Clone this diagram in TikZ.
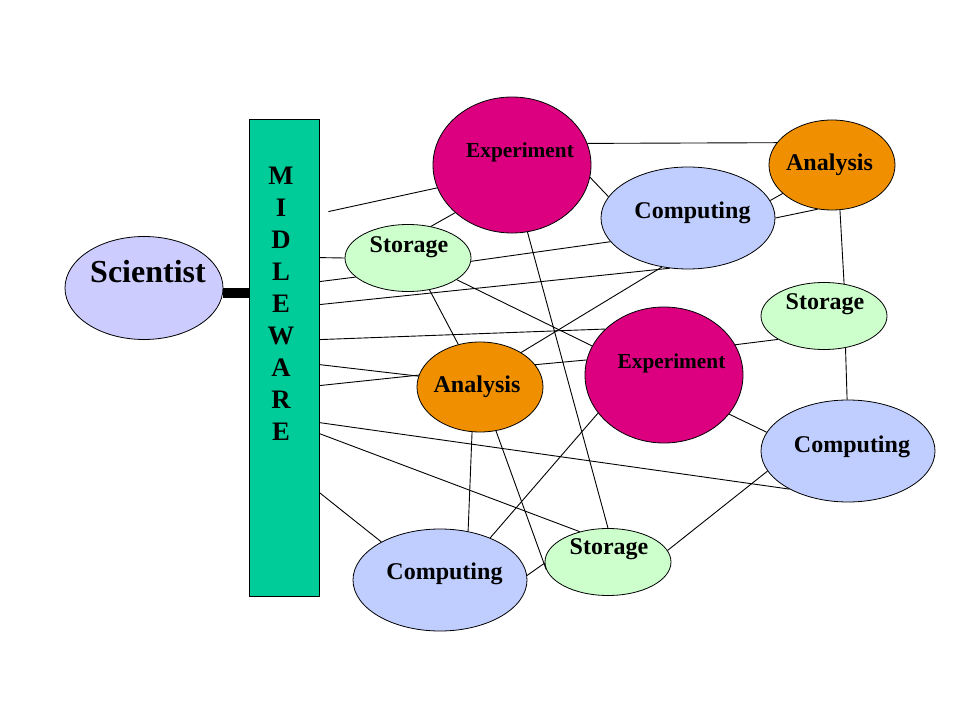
\documentclass[tikz,border=0pt]{standalone}
\usepackage{fontspec}
\setmainfont{Liberation Serif}
\usetikzlibrary{shapes.geometric}
\definecolor{sciblue}{RGB}{204,204,255}
\definecolor{compblue}{RGB}{192,206,255}
\definecolor{expmag}{RGB}{220,0,128}
\definecolor{anaorange}{RGB}{240,144,0}
\definecolor{stogreen}{RGB}{204,255,204}
\definecolor{mwgreen}{RGB}{0,204,153}
\tikzstyle{blob} = [ellipse, draw=black, line width=0.8pt, inner sep=0pt]
\tikzstyle{scientist} = [blob, fill=sciblue, minimum width=158pt, minimum height=103pt]
\tikzstyle{experiment} = [blob, fill=expmag, minimum width=158pt, minimum height=136pt]
\tikzstyle{computing} = [blob, fill=compblue, minimum width=174pt, minimum height=102pt]
\tikzstyle{analysis} = [blob, fill=anaorange, minimum width=126pt, minimum height=90pt]
\tikzstyle{storage} = [blob, fill=stogreen, minimum width=126pt, minimum height=67pt]
\tikzstyle{middleware} = [rectangle, draw=black, line width=0.8pt, fill=mwgreen, minimum width=70pt, minimum height=477pt]
\tikzstyle{txt} = [font=\bfseries\fontsize{24}{28}\selectfont]
\tikzstyle{smalltxt} = [font=\bfseries\fontsize{21.3}{25}\selectfont]
\tikzstyle{bigtxt} = [font=\bfseries\fontsize{32}{38}\selectfont]
\tikzstyle{link} = [line width=0.9pt]
\tikzstyle{bar} = [line width=10pt]

\begin{document}
\begin{tikzpicture}[x=1pt, y=-1pt]
\useasboundingbox (0,0) rectangle (959,719);
\node (mw) [middleware] at (284,357.5) {};
\node (mwtext) [font=\bfseries\fontsize{26.7}{32}\selectfont, align=center] at (281,303.5) {M\\I\\D\\L\\E\\W\\A\\R\\E};
\node (sci) [scientist, label={[name=scit, bigtxt, xshift=4pt, yshift=16pt]center:Scientist}] at (144,288) {};
\node (expT) [experiment, label={[name=expTt, smalltxt, xshift=8pt, yshift=13pt]center:Experiment}] at (512,165) {};
\node (compT) [computing, label={[name=compTt, txt, xshift=4.5pt, yshift=5.5pt]center:Computing}] at (688,218) {};
\node (anaT) [analysis, label={[name=anaTt, txt, xshift=-2.5pt]center:Analysis}] at (832,165) {};
\node (stoL) [storage, label={[name=stoLt, txt, xshift=1pt, yshift=10.5pt]center:Storage}] at (408,258) {};
\node (stoR) [storage, label={[name=stoRt, txt, xshift=1pt, yshift=11.5pt]center:Storage}] at (824,316) {};
\node (anaM) [analysis, label={[name=anaMt, txt, xshift=-3pt]center:Analysis}] at (480,387) {};
\node (expB) [experiment, label={[name=expBt, smalltxt, xshift=7.5pt, yshift=12pt]center:Experiment}] at (664,375) {};
\node (compR) [computing, label={[name=compRt, txt, xshift=4pt, yshift=4.5pt]center:Computing}] at (848,451) {};
\node (stoB) [storage, label={[name=stoBt, txt, xshift=1pt, yshift=12.5pt]center:Storage}] at (608,562) {};
\node (compL) [computing, label={[name=compLt, txt, xshift=4.5pt, yshift=6.5pt]center:Computing}] at (440,580) {};
\draw [bar] ([yshift=-5pt]sci.east) -- ([yshift=-5pt]sci.east -| mw.west);
% middleware to the grid
\draw [link] ([xshift=9pt, yshift=-93pt]mw.north east) -- (expT.197);
\draw [link] ([yshift=-139pt]mw.north east) -- (stoL.west);
\draw [link] ([yshift=-163pt]mw.north east) -- (stoL.200);
\draw [link] ([yshift=-186pt]mw.north east) -- (compT.250);
\draw [link] ([yshift=-221pt]mw.north east) -- (expB.142);
\draw [link] ([yshift=-246pt]mw.north east) -- (anaM.170);
\draw [link] ([yshift=-267pt]mw.north east) -- (anaM.169);
\draw [link] ([yshift=-304pt]mw.north east) -- (compR.213);
\draw [link] ([yshift=-315pt]mw.north east) -- (stoB.133);
\draw [link] ([yshift=-374pt]mw.north east) -- (compL.147);
% grid links
\draw [link] (expT.16) -- (anaT.158);
\draw [link] (expT.351.5) -- (compT.165);
\draw [link] (stoL.54) -- (expT.220);
\draw [link] (stoL.357) -- (compT.197);
\draw [link] (stoL.336) -- (expB.158);
\draw [link] (stoL.304) -- (anaM.117);
\draw [link] (expT.283) -- (stoB.north);
\draw [link] (anaM.40) -- (compT.242);
\draw [link] (anaM.22) -- (expB.169);
\draw [link] (anaM.260) -- (compL.60);
\draw [link] (anaM.290) -- (stoB.187);
\draw [link] (expB.210) -- (compL.40);
\draw [link] (compL.3) -- (stoB.181);
\draw [link] (stoB.11) -- (compR.194);
\draw [link] (expB.329) -- (compR.167);
\draw [link] (stoR.304) -- (compR.91);
\draw [link] (anaT.280) -- (stoR.58);
\draw [link] (compT.12) -- (anaT.210);
\draw [link] (compT.0) -- (anaT.252);
\draw [link] (expB.23) -- (stoR.207);
\end{tikzpicture}
\end{document}
